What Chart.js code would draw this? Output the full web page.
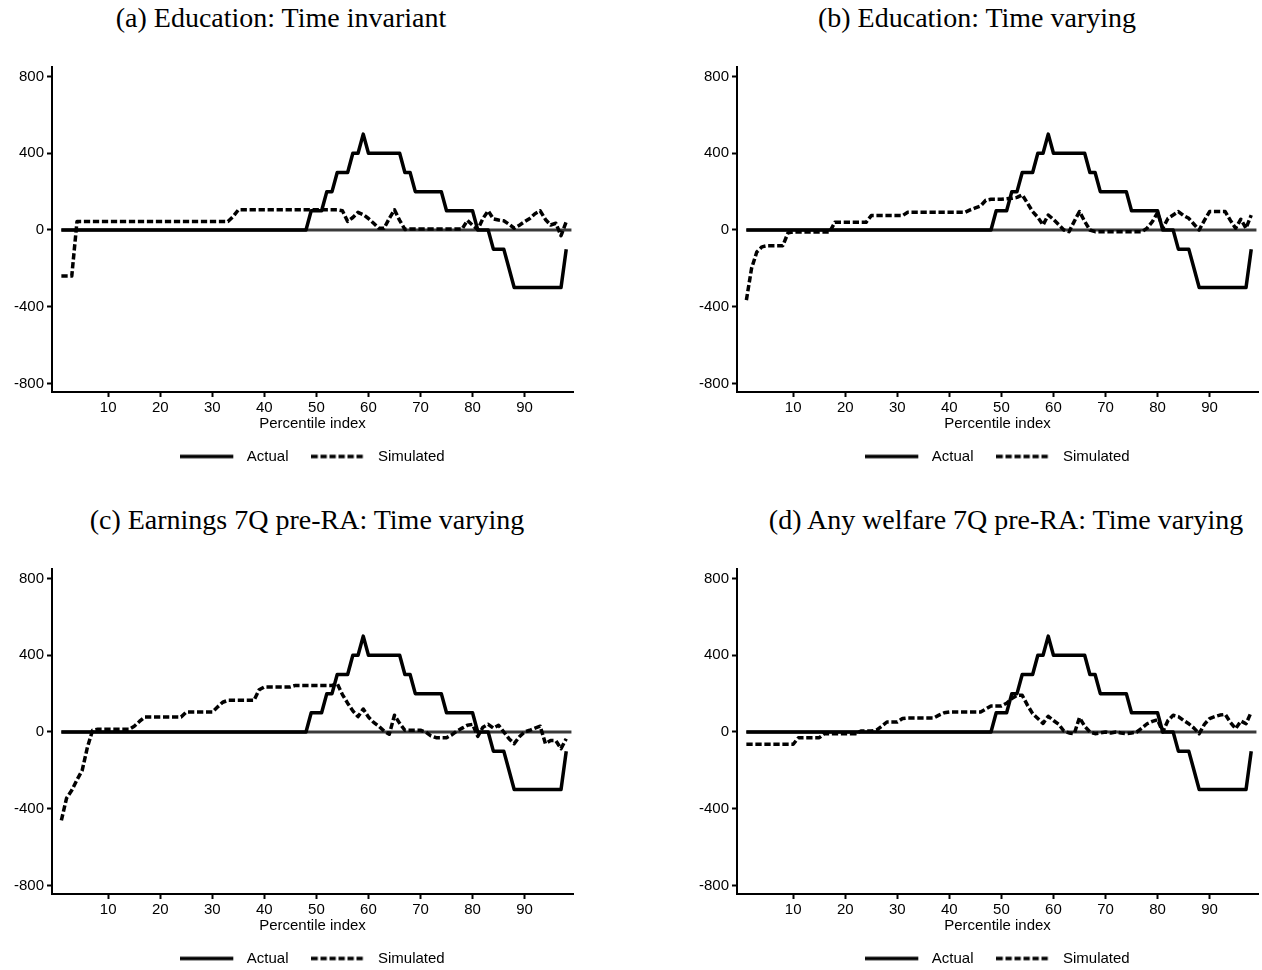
<!DOCTYPE html>
<html><head><meta charset="utf-8">
<script src="https://cdn.jsdelivr.net/npm/chart.js@4.4.1/dist/chart.umd.min.js"></script>
<style>
html,body{margin:0;padding:0;background:#fff;overflow:hidden;}
.wrap{position:relative;width:1262px;height:970px;overflow:hidden;background:#fff;}
canvas{position:absolute;}
.t{position:absolute;font-family:"Liberation Serif","Times New Roman",serif;font-size:28px;line-height:28px;color:#000;white-space:nowrap;transform:translateX(-50%);}
</style></head><body>
<div class="wrap">
<div class="t" style="left:281px;top:4px">(a) Education: Time invariant</div>
<div class="t" style="left:977px;top:4px">(b) Education: Time varying</div>
<div class="t" style="left:307px;top:506px">(c) Earnings 7Q pre-RA: Time varying</div>
<div class="t" style="left:1006px;top:506px">(d) Any welfare 7Q pre-RA: Time varying</div>
<canvas id="ca" width="631" height="440" style="left:0px;top:40px"></canvas>
<canvas id="cb" width="631" height="440" style="left:631px;top:40px"></canvas>
<canvas id="cc" width="631" height="440" style="left:0px;top:542px"></canvas>
<canvas id="cd" width="631" height="440" style="left:631px;top:542px"></canvas>
</div>
<script>
const percentiles = Array.from({length: 98}, (_, i) => i + 1);
const xTicks = [10, 20, 30, 40, 50, 60, 70, 80, 90];
const yTicks = [-800, -400, 0, 400, 800];
const zeroLineX = [1, 99];
const zeroLineY = [0, 0];

const actual = [
  0,0,0,0,0,0,0,0,0,0,
  0,0,0,0,0,0,0,0,0,0,
  0,0,0,0,0,0,0,0,0,0,
  0,0,0,0,0,0,0,0,0,0,
  0,0,0,0,0,0,0,0,100,100,
  100,200,200,300,300,300,400,400,500,400,
  400,400,400,400,400,400,300,300,200,200,
  200,200,200,200,100,100,100,100,100,100,
  0,0,0,-100,-100,-100,-200,-300,-300,-300,
  -300,-300,-300,-300,-300,-300,-300,-100
];
const simA = [
  -240,-240,-240,44,44,44,44,44,44,44,
  44,44,44,44,44,44,44,44,44,44,
  44,44,44,44,44,44,44,44,44,44,
  44,44,44,70,105,105,105,105,105,105,
  105,105,105,105,105,105,105,105,105,105,
  105,105,105,105,100,45,65,92,80,60,
  35,9,9,60,105,50,3,5,5,5,
  5,5,5,5,5,5,5,5,50,25,
  3,60,100,58,52,48,30,9,25,43,
  60,85,100,55,26,35,-30,43
];
const simB = [
  -366,-200,-115,-88,-82,-82,-82,-82,-15,-10,
  -10,-10,-10,-10,-10,-10,-10,40,40,40,
  40,40,40,40,75,75,75,75,75,75,
  75,92,92,92,92,92,92,92,92,92,
  92,92,92,105,115,125,155,160,160,160,
  163,165,170,183,140,96,66,26,78,55,
  28,0,-9,45,96,45,0,-9,-9,-9,
  -9,-9,-9,-9,-9,-9,-9,10,43,90,
  9,60,78,96,75,61,30,0,50,96,
  96,96,96,50,9,56,9,78
];
const simC = [
  -461,-345,-304,-250,-200,-80,9,14,14,14,
  14,14,14,14,30,55,78,78,78,78,
  78,78,78,78,104,104,104,104,104,104,
  130,155,165,165,165,165,165,165,220,235,
  235,235,235,235,235,243,243,243,243,243,
  243,243,243,252,195,150,110,80,120,78,
  50,30,5,-12,87,45,9,9,9,9,
  0,-20,-30,-30,-30,-15,5,20,35,40,
  -23,25,40,20,35,0,-35,-61,-25,0,
  9,20,30,-61,-45,-45,-87,-35
];
const simD = [
  -64,-64,-64,-64,-64,-64,-64,-64,-64,-64,
  -30,-30,-30,-30,-30,-9,-9,-9,-9,-9,
  -9,-9,5,5,5,10,30,52,52,52,
  70,73,73,73,73,73,73,88,100,104,
  104,104,104,104,104,104,120,136,136,136,
  150,175,191,191,140,96,70,45,82,60,
  40,5,-5,-9,75,30,0,-9,-5,0,
  -5,0,-5,-9,-5,0,20,43,55,64,
  0,60,87,80,60,43,20,-9,40,70,
  80,88,92,50,17,57,43,104
];

const FONT = {family: "'Liberation Sans', Arial, sans-serif", size: 15};
const DASH = [6.3, 2.7];

function toXY(xs, ys) { return xs.map((x, i) => ({x: x, y: ys[i]})); }

function sample(dash) {
  const c = document.createElement('canvas');
  c.width = 59; c.height = 6;
  const g = c.getContext('2d');
  g.strokeStyle = '#000'; g.lineWidth = 3.5; g.setLineDash(dash);
  g.beginPath(); g.moveTo(0, 3); g.lineTo(53, 3); g.stroke();
  return c;
}
const solidImg = sample([]);
const dashImg = sample(DASH);

function build(id, sim, padLeft, padRight) {
  return new Chart(document.getElementById(id), {
    type: 'line',
    data: {
      datasets: [
        {label: 'Simulated', data: toXY(percentiles, sim), borderColor: '#000', borderWidth: 3.5,
         borderDash: DASH, pointRadius: 0, tension: 0, fill: false, order: 0, borderJoinStyle: 'round'},
        {label: 'Actual', data: toXY(percentiles, actual), borderColor: '#000', borderWidth: 3.5,
         pointRadius: 0, tension: 0, fill: false, order: 1, borderJoinStyle: 'round'},
        {label: 'zero', data: toXY(zeroLineX, zeroLineY), borderColor: '#3a3a3a', borderWidth: 3,
         pointRadius: 0, tension: 0, fill: false, order: 2}
      ]
    },
    options: {
      responsive: false, animation: false, devicePixelRatio: 1,
      events: [],
      layout: {padding: {top: 27, left: padLeft, right: padRight, bottom: 6}},
      plugins: {
        tooltip: {enabled: false},
        title: {display: false},
        legend: {
          display: true, position: 'bottom', fullSize: false,
          labels: {
            usePointStyle: true, pointStyleWidth: 59, boxHeight: 15, padding: 23,
            color: '#000', font: FONT,
            generateLabels: () => [
              {text: 'Actual', pointStyle: solidImg, fillStyle: '#000', strokeStyle: '#000', lineWidth: 0, hidden: false, datasetIndex: 1, fontColor: '#000'},
              {text: 'Simulated', pointStyle: dashImg, fillStyle: '#000', strokeStyle: '#000', lineWidth: 0, hidden: false, datasetIndex: 0, fontColor: '#000'}
            ]
          }
        }
      },
      scales: {
        x: {
          type: 'linear', min: -0.8, max: 99.3,
          afterBuildTicks: s => { s.ticks = xTicks.map(v => ({value: v})); },
          afterFit: s => { s.height = 34; },
          ticks: {font: FONT, color: '#000', padding: 2, maxRotation: 0, autoSkip: false, callback: v => String(v)},
          grid: {drawOnChartArea: false, drawTicks: true, tickLength: 5, tickWidth: 2, tickColor: '#000'},
          border: {display: true, color: '#000', width: 2},
          title: {display: true, text: 'Percentile index', font: FONT, color: '#000', padding: {top: 0, bottom: -7}}
        },
        y: {
          type: 'linear', min: -845, max: 850,
          afterBuildTicks: s => { s.ticks = yTicks.map(v => ({value: v})); },
          afterFit: s => { s.width = 52; },
          ticks: {font: FONT, color: '#000', padding: 3, autoSkip: false, callback: v => String(v)},
          grid: {drawOnChartArea: false, drawTicks: true, tickLength: 5, tickWidth: 2, tickColor: '#000'},
          border: {display: true, color: '#000', width: 2}
        }
      }
    }
  });
}
build('ca', simA, 0, 58);
build('cb', simB, 54, 4);
build('cc', simC, 0, 58);
build('cd', simD, 54, 4);
</script>
</body></html>
